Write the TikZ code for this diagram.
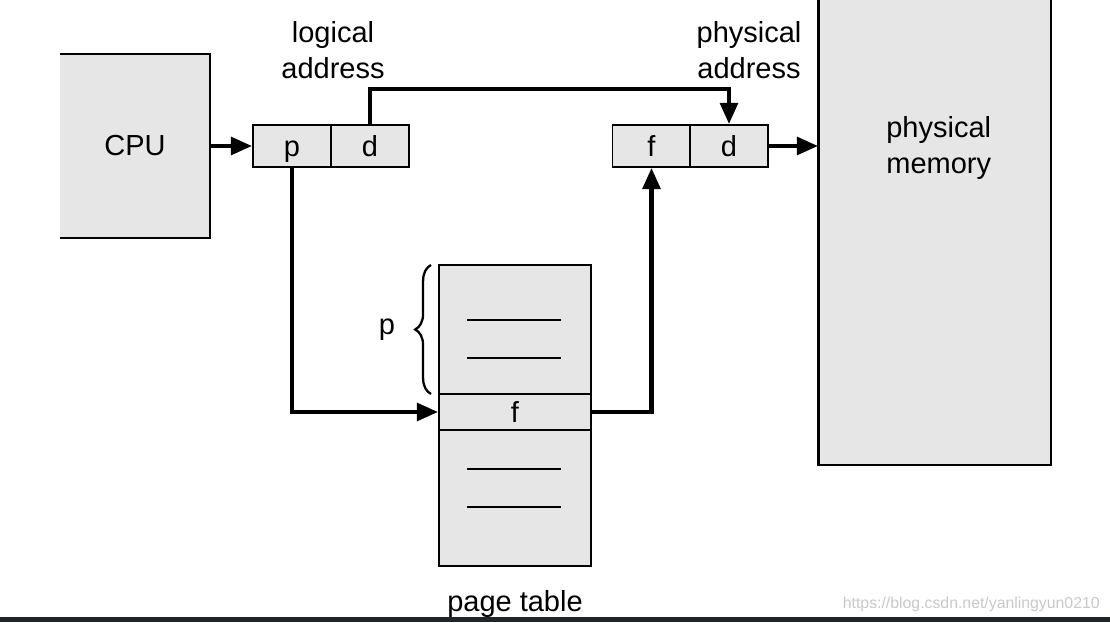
\documentclass[tikz,border=0pt]{standalone}
\usepackage{fontspec}
\setmainfont{Liberation Sans}
\usetikzlibrary{arrows.meta, decorations.pathreplacing}
\definecolor{boxgray}{HTML}{E6E6E6}
\definecolor{bargray}{HTML}{232427}
\definecolor{markgray}{HTML}{C8C8C8}

\begin{document}
\begin{tikzpicture}[
    font=\fontsize{16.5}{20.4}\selectfont,
    box/.style={draw, line width=1.1pt, fill=boxgray, inner sep=0pt, text height=12pt, text depth=0pt},
    cell/.style={box, minimum width=1.56cm, minimum height=0.84cm},
    link/.style={line width=2.3pt, -{Triangle[length=12pt, width=10pt]}},
    entry/.style={line width=1.6pt}
]
\useasboundingbox (0,0) rectangle (22.2,12.44);
\fill[bargray] (0,0) rectangle (22.2,0.1);

% CPU, left side runs off the picture
\node[fill=boxgray, minimum width=3cm, minimum height=3.68cm, inner sep=0pt] (cpu) at (2.7,9.52) {CPU};
\draw[line width=1.1pt] (cpu.north west) -- (cpu.north east) -- (cpu.south east) -- (cpu.south west);

% logical address
\node[cell] (lp) at (5.84,9.52) {p};
\node[cell] (ld) at (7.40,9.52) {d};
\node[align=center] (laddr) at (6.66,11.44) {logical\\address};

% physical address
\node[cell] (pf) at (13.03,9.52) {f};
\node[cell] (pd) at (14.58,9.52) {d};
\node[align=center] (paddr) at (14.98,11.44) {physical\\address};

% physical memory
\node[box, minimum width=4.64cm, minimum height=9.46cm] (mem) at (18.7,7.87) {};
\draw[line width=1.6pt] (mem.north west) -- (mem.south west);
\node[align=left, anchor=west, inner sep=0pt] (memtext) at (17.72,9.48) {physical\\memory};

% page table
\node[box, minimum width=3.04cm, minimum height=2.58cm] (ptop) at (10.3,5.85) {};
\node[box, minimum width=3.04cm, minimum height=0.72cm] (pfrow) at (10.3,4.2) {f};
\node[box, minimum width=3.04cm, minimum height=2.72cm] (pbot) at (10.3,2.48) {};
\foreach \y in {6.04,5.28,3.06,2.3}
    \draw[entry] (9.34,\y) -- (11.22,\y);
\node (ptlabel) at (10.3,0.36) {page table};

\coordinate (blow) at (8.62,4.56);
\coordinate (bhigh) at (8.62,7.14);
\draw[decorate, decoration={brace, amplitude=9pt}, line width=1.3pt] (blow) -- (bhigh);
\node (pidx) at (7.74,5.84) {p};

% connectors
\coordinate (dtop) at (7.40,10.66);
\draw[link] (cpu.east) -- (lp.west);
\draw[link] (lp.south) |- (pfrow.west);
\draw[link] (ld.north) -- (dtop) -| (pd.north);
\draw[link] (pfrow.east) -| (pf.south);
\draw[link] (pd.east) -- (pd.east -| mem.west);

\node[anchor=east, inner sep=0pt, font=\fontsize{9}{10}\selectfont, text=markgray] (mark) at (22.0,0.36) {https://blog.csdn.net/yanlingyun0210};

\end{tikzpicture}
\end{document}
